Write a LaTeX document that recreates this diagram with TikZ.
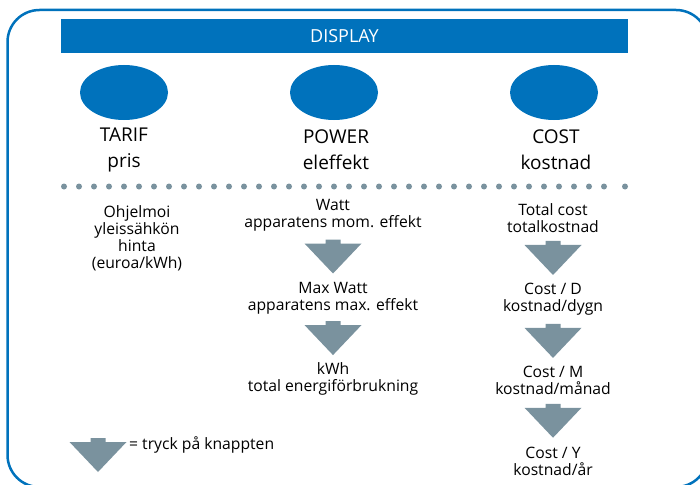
\documentclass[tikz,border=0pt]{standalone}
\usepackage{fontspec}
\setmainfont{Open Sans}
\usetikzlibrary{calc,shapes.geometric}
\definecolor{dispblue}{RGB}{0,114,188}
\definecolor{keygray}{RGB}{122,146,158}
\tikzset{push/.pic={\fill[keygray] (-7.5,-17) -- (7.5,-17) -- (7.5,-13) -- (28.5,-13) -- (0,17) -- (-28.5,-13) -- (-7.5,-13) -- cycle;}}

\begin{document}
\begin{tikzpicture}[x=1pt,y=-1pt,every node/.style={align=center,inner sep=0pt,font=\fontsize{15.7}{17}\selectfont}]
  \clip (0,0) rectangle (700,484);
  \draw[dispblue,line width=2.5pt,rounded corners=32pt] (7.5,10) rectangle (708,487);

  \node[fill=dispblue,text=white,minimum width=567pt,minimum height=34pt,font=\fontsize{18}{20}\selectfont] (d) at (344.5,36) {DISPLAY};

  \node[ellipse,fill=dispblue,minimum width=88pt,minimum height=55pt] (b0) at (124,92.5) {};
  \node[ellipse,fill=dispblue,minimum width=88pt,minimum height=55pt] (b1) at (334,92.5) {};
  \node[ellipse,fill=dispblue,minimum width=88pt,minimum height=55pt] (b2) at (554,92.5) {};

  \node[font=\fontsize{19}{26}\selectfont] (l0) at (124,150) {TARIF\\pris};
  \node[font=\fontsize{19}{26}\selectfont] (l1) at (336,150) {POWER\\eleffekt};
  \node[font=\fontsize{19}{26}\selectfont] (l2) at (556,150) {COST\\kostnad};

  \foreach \x in {64,79,...,604,625} \fill[keygray] (\x,186.5) circle (3);

  \node (t1) at (137,238) {Ohjelmoi\\yleissähkön\\hinta\\(euroa/kWh)};

  \node (p1) at (333,215) {Watt\\apparatens mom. effekt};
  \node (p2) at (333,298) {Max Watt\\apparatens max. effekt};
  \node (p3) at (333,378.5) {kWh\\total energiförbrukning};

  \node (c1) at (553,218) {Total cost\\totalkostnad};
  \node (c2) at (553,299.5) {Cost / D\\kostnad/dygn};
  \node (c3) at (553,380.5) {Cost / M\\kostnad/månad};
  \node (c4) at (553,461) {Cost / Y\\kostnad/år};

  \pic at ($(p1.south)!.5!(p2.north)$) {push};
  \pic at ($(p2.south)!.5!(p3.north)$) {push};
  \pic at ($(c1.south)!.5!(c2.north)$) {push};
  \pic at ($(c2.south)!.5!(c3.north)$) {push};
  \pic at ($(c3.south)!.5!(c4.north)$) {push};

  \node[anchor=west] (k) at (129,445) {= tryck på knappten};
  \pic at ([xshift=-31pt,yshift=-10pt]k.west) {push};
\end{tikzpicture}
\end{document}
